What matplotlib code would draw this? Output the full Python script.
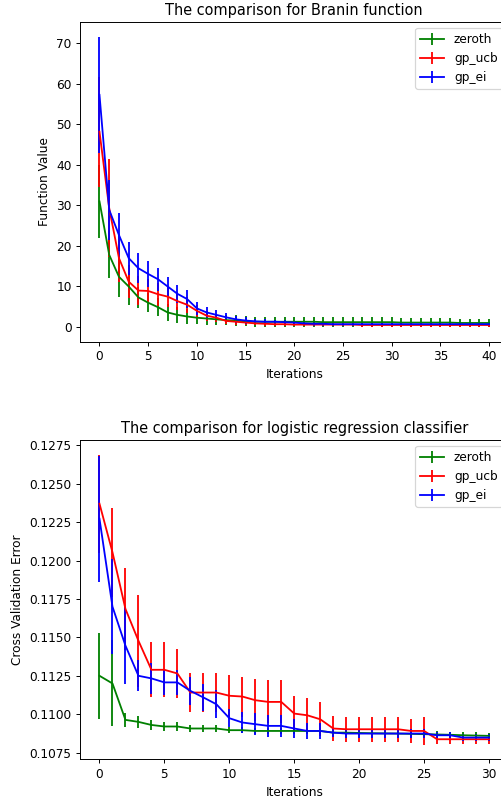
import numpy as np
import matplotlib
matplotlib.use("Agg")
from matplotlib import pyplot as plt

# Branin function results (41 iterations)
branin_iters = np.arange(41)
branin_zeroth = [30.9, 17.7, 12.3, 9.9, 7.2, 5.9, 4.8, 3.5, 2.9, 2.5,
                 2.2, 2.0, 1.8, 1.6, 1.5, 1.3, 1.2, 1.2, 1.2, 1.2,
                 1.2, 1.2, 1.2, 1.1, 1.1, 1.1, 1.1, 1.1, 1.1, 1.1,
                 1.1, 1.0, 1.0, 1.0, 1.0, 1.0, 1.0, 0.9, 0.9, 0.9, 0.9]
branin_zeroth_err = [9.0, 5.8, 5.0, 4.5, 2.7, 2.4, 2.2, 2.0, 2.0, 1.8,
                     1.6, 1.5, 1.4, 1.3, 1.3, 1.2, 1.2, 1.2, 1.2, 1.2,
                     1.2, 1.2, 1.2, 1.2, 1.2, 1.2, 1.2, 1.2, 1.2, 1.2,
                     1.2, 1.2, 1.2, 1.2, 1.2, 1.1, 1.1, 1.1, 1.1, 1.1, 1.1]
branin_ucb = [48.1, 29.2, 16.9, 11.1, 8.9, 8.8, 8.0, 7.4, 6.3, 5.4,
              3.9, 2.7, 2.2, 1.4, 1.2, 1.0, 0.8, 0.7, 0.6, 0.6,
              0.5, 0.5, 0.5, 0.5, 0.5, 0.5, 0.5, 0.4, 0.4, 0.4,
              0.4, 0.4, 0.4, 0.4, 0.4, 0.4, 0.4, 0.4, 0.4, 0.4, 0.4]
branin_ucb_err = [13.6, 12.1, 6.0, 4.0, 3.5, 3.0, 2.8, 2.5, 2.2, 2.0,
                  1.5, 1.2, 1.0, 0.8, 0.7, 0.6, 0.5, 0.5, 0.4, 0.4,
                  0.4, 0.4, 0.4, 0.4, 0.4, 0.4, 0.4, 0.4, 0.4, 0.4,
                  0.4, 0.4, 0.4, 0.4, 0.4, 0.4, 0.4, 0.4, 0.4, 0.4, 0.4]
branin_ei = [57.2, 28.8, 22.6, 16.9, 14.4, 13.0, 11.7, 9.9, 8.1, 6.8,
             4.5, 3.5, 2.9, 2.3, 1.8, 1.5, 1.3, 1.2, 1.2, 1.1,
             1.0, 0.8, 0.7, 0.7, 0.6, 0.6, 0.6, 0.6, 0.6, 0.6,
             0.6, 0.6, 0.6, 0.6, 0.6, 0.6, 0.6, 0.6, 0.6, 0.6, 0.6]
branin_ei_err = [14.4, 7.4, 5.5, 4.1, 3.7, 3.3, 2.8, 2.3, 2.2, 2.2,
                 1.6, 1.4, 1.2, 1.0, 0.9, 0.8, 0.6, 0.6, 0.5, 0.5,
                 0.5, 0.5, 0.5, 0.5, 0.5, 0.5, 0.5, 0.5, 0.5, 0.5,
                 0.5, 0.5, 0.5, 0.5, 0.5, 0.5, 0.5, 0.5, 0.5, 0.5, 0.5]

# Logistic regression results (31 iterations)
lr_iters = np.arange(31)
lr_zeroth = [0.1125, 0.1120, 0.10963, 0.1095, 0.1093, 0.1092, 0.1092, 0.10907,
             0.10907, 0.10907, 0.10896, 0.10896, 0.10891, 0.10891, 0.10891,
             0.10891, 0.10891, 0.10891, 0.1088, 0.1088, 0.10878, 0.10876,
             0.10875, 0.10874, 0.10872, 0.1087, 0.10868, 0.10866, 0.10863,
             0.10861, 0.10859]
lr_zeroth_err = [0.0028, 0.0028, 0.00045, 0.0004, 0.0003, 0.0003, 0.0003, 0.00025,
                 0.00025, 0.00025, 0.0002, 0.0002, 0.0002, 0.0002, 0.0002,
                 0.0002, 0.0002, 0.0002, 0.0002, 0.0002, 0.0002, 0.0002,
                 0.0002, 0.0002, 0.0002, 0.0002, 0.0002, 0.0002, 0.0002,
                 0.0002, 0.0002]
lr_ucb = [0.1237, 0.12054, 0.11685, 0.11478, 0.11289, 0.11289, 0.11265, 0.11141,
          0.11141, 0.11141, 0.1112, 0.11115, 0.11091, 0.1108, 0.1108,
          0.11004, 0.10993, 0.10967, 0.10907, 0.10902, 0.10902, 0.10902,
          0.10902, 0.10902, 0.10891, 0.10891, 0.10837, 0.10837, 0.10837,
          0.10837, 0.10837]
lr_ucb_err = [0.0032, 0.0029, 0.00265, 0.003, 0.0018, 0.0018, 0.0016, 0.00126,
              0.00126, 0.00126, 0.00135, 0.0013, 0.00137, 0.0014, 0.0014,
              0.00115, 0.0011, 0.0011, 0.0008, 0.0008, 0.0008, 0.0008,
              0.0008, 0.0008, 0.0008, 0.0009, 0.0003, 0.0003, 0.0003,
              0.0003, 0.0003]
lr_ei = [0.12272, 0.1170, 0.11446, 0.1125, 0.11233, 0.11207, 0.11207, 0.11152,
         0.11109, 0.11065, 0.10974, 0.10946, 0.10935, 0.10924, 0.10924,
         0.10907, 0.10891, 0.10891, 0.1088, 0.10874, 0.10874, 0.10874,
         0.10874, 0.10874, 0.10874, 0.10874, 0.10863, 0.10863, 0.10848,
         0.10848, 0.10848]
lr_ei_err = [0.0041, 0.0031, 0.0025, 0.001, 0.001, 0.0008, 0.0008, 0.0009,
             0.0009, 0.0009, 0.0006, 0.0007, 0.0007, 0.0007, 0.0007,
             0.0006, 0.0005, 0.0005, 0.0003, 0.0003, 0.0003, 0.0003,
             0.0003, 0.0003, 0.0003, 0.0003, 0.0002, 0.0002, 0.0002,
             0.0002, 0.0002]

# the reference text is drawn smaller than at 100 dpi, 87 matches the title widths
dpi = 87
fig = plt.figure(figsize=(501 / dpi, 799 / dpi), dpi=dpi)

# top: Branin
ax1 = fig.add_axes([0.1597, 0.572, 0.8553, 0.4005])
ax1.errorbar(branin_iters, branin_zeroth, yerr=branin_zeroth_err, color='g', label='zeroth')
ax1.errorbar(branin_iters, branin_ucb, yerr=branin_ucb_err, color='r', label='gp_ucb')
ax1.errorbar(branin_iters, branin_ei, yerr=branin_ei_err, color='b', label='gp_ei')
ax1.set_title('The comparison for Branin function')
ax1.set_xlabel('Iterations')
ax1.set_ylabel('Function Value')
ax1.set_xticks(np.arange(0, 41, 5))
ax1.legend(loc='upper right')

# bottom: logistic regression
ax2 = fig.add_axes([0.1597, 0.0497, 0.8553, 0.3996])
ax2.errorbar(lr_iters, lr_zeroth, yerr=lr_zeroth_err, color='g', label='zeroth')
ax2.errorbar(lr_iters, lr_ucb, yerr=lr_ucb_err, color='r', label='gp_ucb')
ax2.errorbar(lr_iters, lr_ei, yerr=lr_ei_err, color='b', label='gp_ei')
ax2.set_title('The comparison for logistic regression classifier')
ax2.set_xlabel('Iterations')
ax2.set_ylabel('Cross Validation Error')
ax2.set_xticks(np.arange(0, 31, 5))
ax2.set_yticks(np.arange(0.1075, 0.12751, 0.0025))
ax2.legend(loc='upper right')

fig.savefig('out.png', dpi=dpi)
